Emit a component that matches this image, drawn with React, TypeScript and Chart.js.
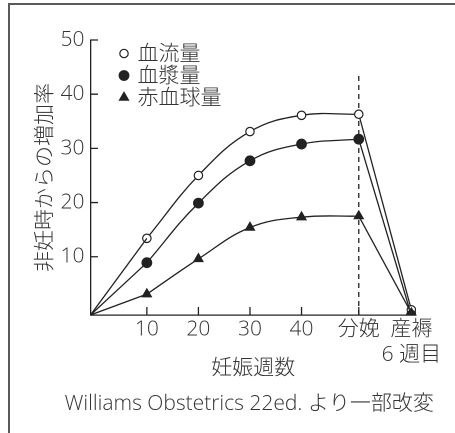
import React, { useEffect, useRef } from "react";
import { Chart, registerables } from "chart.js";
import { drawPoint } from "chart.js/helpers";

Chart.register(...registerables);

// ---- data ----
const xMin = -0.93; // axis origin (weeks)
const xMax = 62.2;
const yMin = -0.75; // axis origin (%)
const yMax = 50;
const weekPositions = [10, 20, 30, 40, 51.1, 61.3];
const xTickLabels: (string | string[])[] = ["10", "20", "30", "40", "分娩", ["産褥", "6 週目"]];
const markedXTicks = [10, 20, 30, 40, 51.1];
const yTicks = [10, 20, 30, 40, 50];
const seriesLabels = ["血流量", "血漿量", "赤血球量"];
const bloodVolume = [13.4, 25.0, 33.1, 36.1, 36.3, 0.2];
const plasmaVolume = [8.9, 19.9, 27.7, 30.8, 31.7, -0.8];
const redCellVolume = [3.1, 9.6, 15.4, 17.3, 17.5, -0.4];
const deliveryLineTop = 44;
const yTitle = "非妊時からの増加率";
const xTitle = "妊娠週数";
const footer = "Williams Obstetrics 22ed. より一部改変";

const INK = "#222";
const TEXT = "#333";
const FONT = "'Open Sans', 'Noto Sans CJK JP', 'Noto Sans', sans-serif";
const FSIZE = 21;
const FWEIGHT = 300;

type Marker = { pointStyle: string; radius: number; fill: string };
const markers: Marker[] = [
  { pointStyle: "circle", radius: 4.2, fill: "#fff" },
  { pointStyle: "circle", radius: 4.8, fill: INK },
  { pointStyle: "triangle", radius: 5.2, fill: INK },
];
const seriesValues = [bloodVolume, plasmaVolume, redCellVolume];

function lineBase(order: number) {
  return {
    borderColor: INK,
    borderWidth: 1.3,
    pointBorderColor: INK,
    pointBorderWidth: 1.2,
    order,
  };
}

function buildDatasets() {
  const ds: any[] = [];
  seriesValues.forEach((vals, i) => {
    const m = markers[i];
    const rise = [
      { x: xMin, y: yMin },
      { x: weekPositions[0], y: vals[0] },
    ];
    const curve = weekPositions.slice(0, 5).map((x, k) => ({ x, y: vals[k] }));
    const drop = [
      { x: weekPositions[4], y: vals[4] },
      { x: weekPositions[5], y: vals[5] },
    ];
    ds.push({ ...lineBase(3 - i), label: seriesLabels[i] + "-rise", data: rise, tension: 0, pointRadius: 0 });
    ds.push({
      ...lineBase(3 - i),
      label: seriesLabels[i],
      data: curve,
      tension: 0.4,
      pointStyle: m.pointStyle,
      pointRadius: m.radius,
      pointBackgroundColor: m.fill,
    });
    ds.push({
      ...lineBase(3 - i),
      label: seriesLabels[i] + "-drop",
      data: drop,
      tension: 0,
      pointStyle: m.pointStyle,
      pointRadius: [0, m.radius],
      pointBackgroundColor: m.fill,
    });
  });
  ds.push({
    label: "delivery",
    data: [
      { x: weekPositions[4], y: yMin },
      { x: weekPositions[4], y: deliveryLineTop },
    ],
    borderColor: INK,
    borderWidth: 1.3,
    borderDash: [5, 4],
    pointRadius: 0,
    order: 10,
  });
  return ds;
}

const decorPlugin = {
  id: "decor",
  afterDraw(chart: any) {
    const ctx = chart.ctx as CanvasRenderingContext2D;
    const xs = chart.scales.x;
    const ys = chart.scales.y;
    const { left, top, bottom, right } = chart.chartArea;
    ctx.save();
    // inward tick marks
    ctx.strokeStyle = INK;
    ctx.lineWidth = 1.3;
    ctx.beginPath();
    yTicks.forEach((v) => {
      const py = ys.getPixelForValue(v);
      ctx.moveTo(left, py);
      ctx.lineTo(left + 7.5, py);
    });
    markedXTicks.forEach((v) => {
      const px = xs.getPixelForValue(v);
      ctx.moveTo(px, bottom);
      ctx.lineTo(px, bottom - 8);
    });
    ctx.stroke();
    // legend
    ctx.font = `${FWEIGHT} ${FSIZE}px ${FONT}`;
    ctx.textBaseline = "middle";
    ctx.textAlign = "left";
    seriesLabels.forEach((label, i) => {
      const m = markers[i];
      const cx = left + 33.5;
      const cy = top + 13.5 + i * 22;
      ctx.fillStyle = m.fill;
      ctx.strokeStyle = INK;
      ctx.lineWidth = 1.2;
      drawPoint(ctx, { pointStyle: m.pointStyle as any, rotation: 0, radius: m.radius, borderWidth: 1.2 }, cx, cy);
      ctx.fillStyle = TEXT;
      ctx.fillText(label, left + 47, cy + 1);
    });
    // footer
    ctx.textAlign = "center";
    ctx.fillStyle = TEXT;
    ctx.fillText(footer, (left + right) / 2 - 4, 404);
    ctx.restore();
  },
};

const axisFont = { family: FONT, size: FSIZE, weight: FWEIGHT as any, lineHeight: 1.2 };

export default function App() {
  const ref = useRef<HTMLCanvasElement>(null);
  useEffect(() => {
    if (!ref.current) return;
    const chart = new Chart(ref.current, {
      type: "line",
      data: { datasets: buildDatasets() },
      options: {
        animation: false,
        responsive: false,
        devicePixelRatio: 2,
        layout: { padding: { left: 0, top: 40, right: 39, bottom: 0 } },
        plugins: { legend: { display: false }, tooltip: { enabled: false } },
        scales: {
          x: {
            type: "linear",
            position: "bottom",
            min: xMin,
            max: xMax,
            grid: { display: false, drawTicks: false },
            border: { display: true, color: INK, width: 1.3 },
            afterBuildTicks: (s: any) => {
              s.ticks = weekPositions.map((v) => ({ value: v }));
            },
            afterFit: (s: any) => {
              s.height = 118;
            },
            ticks: {
              autoSkip: false,
              maxRotation: 0,
              padding: 2,
              color: TEXT,
              font: axisFont,
              callback: (_v: any, i: number) => xTickLabels[i],
            },
            title: {
              display: true,
              text: xTitle,
              color: TEXT,
              font: axisFont,
              padding: { top: 0, bottom: 52 },
            },
          },
          y: {
            type: "linear",
            min: yMin,
            max: yMax,
            grid: { display: false, drawTicks: false },
            border: { display: true, color: INK, width: 1.3 },
            afterBuildTicks: (s: any) => {
              s.ticks = yTicks.map((v) => ({ value: v }));
            },
            afterFit: (s: any) => {
              s.width = 90.5;
            },
            ticks: {
              padding: 6,
              color: TEXT,
              font: axisFont,
            },
            title: {
              display: true,
              text: yTitle,
              color: TEXT,
              font: axisFont,
              padding: { top: 33, bottom: 0 },
            },
          },
        },
      } as any,
      plugins: [decorPlugin],
    });
    return () => chart.destroy();
  }, []);

  return (
    <div
      style={{
        position: "fixed",
        left: 0,
        top: 0,
        width: 455,
        height: 433,
        overflow: "hidden",
        background: "#fff",
      }}
    >
      <div
        style={{
          position: "absolute",
          left: 8,
          top: 3,
          width: 500,
          height: 500,
          borderTop: "2px solid #5a5a5a",
          borderLeft: "2px solid #5a5a5a",
        }}
      />
      <canvas ref={ref} width={455} height={433} style={{ position: "absolute", left: 0, top: 0 }} />
    </div>
  );
}
